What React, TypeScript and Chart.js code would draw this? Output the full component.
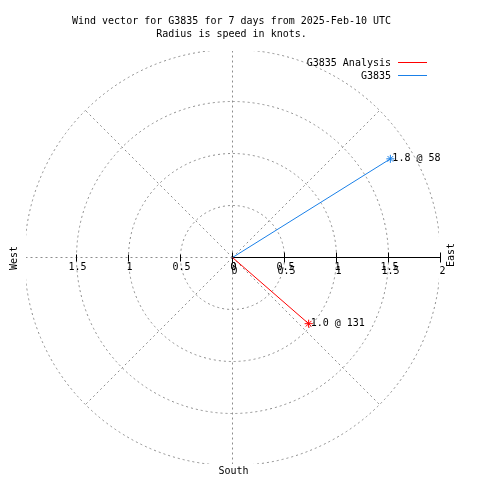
import React, { useEffect, useRef } from "react";
import { Chart, registerables } from "chart.js";

Chart.register(...registerables);

// ---- data ----
const seriesNames = ["G3835 Analysis", "G3835"];
const speedsKnots = [0.97, 1.79];
const directionsDeg = [131, 58];
const ringValues = [0.5, 1, 1.5, 2];
const westTickValues = [1.5, 1, 0.5, 0];
const eastTickValuesA = [0, 0.5, 1, 1.5];
const eastTickValuesB = [0, 0.5, 1, 1.5, 2];
const titleLines = [
  "Wind vector for G3835 for 7 days from 2025-Feb-10 UTC",
  "Radius is speed in knots.",
];
const compassLabels = { west: "West", east: "East", south: "South" };

const FONT = '10px "DejaVu Sans Mono", "Liberation Mono", monospace';
const seriesColors = ["#ff0000", "#1a80e8"];

function fmtTick(v: number) {
  return String(v);
}

const polarPlugin = {
  id: "polarDecor",
  beforeDatasetsDraw(chart: any) {
    const { ctx, scales } = chart;
    const x = scales.x;
    const y = scales.y;
    const cx = x.getPixelForValue(0);
    const cy = y.getPixelForValue(0);
    const k = x.getPixelForValue(1) - cx;
    const R = ringValues[ringValues.length - 1];

    ctx.save();
    const L = x.getPixelForValue(-1.985);
    const Rt = x.getPixelForValue(1.985);
    const T = y.getPixelForValue(1.985);
    const B = y.getPixelForValue(-1.985);
    ctx.beginPath();
    ctx.rect(L, T, Rt - L, B - T);
    ctx.clip();
    ctx.strokeStyle = "#8c8c8c";
    ctx.lineWidth = 1;
    ctx.setLineDash([2, 3]);
    for (const r of ringValues) {
      ctx.beginPath();
      ctx.arc(cx, cy, r * k, 0, Math.PI * 2);
      ctx.stroke();
    }
    for (let a = 45; a < 360; a += 45) {
      const rad = (a * Math.PI) / 180;
      ctx.beginPath();
      ctx.moveTo(cx, cy);
      ctx.lineTo(cx + Math.cos(rad) * R * k, cy - Math.sin(rad) * R * k);
      ctx.stroke();
    }
    ctx.restore();

    // solid east axis
    ctx.save();
    ctx.strokeStyle = "#000";
    ctx.lineWidth = 1;
    ctx.beginPath();
    ctx.moveTo(cx, cy);
    ctx.lineTo(x.getPixelForValue(R), cy);
    ctx.stroke();
    for (const v of [0, ...ringValues]) {
      const px = Math.round(x.getPixelForValue(v) - 0.5) + 0.5;
      ctx.beginPath();
      ctx.moveTo(px, cy - 5);
      ctx.lineTo(px, cy + 5);
      ctx.stroke();
    }
    for (const v of westTickValues) {
      if (v === 0) continue;
      const px = Math.round(x.getPixelForValue(-v) - 0.5) + 0.5;
      ctx.beginPath();
      ctx.moveTo(px, cy - 3);
      ctx.lineTo(px, cy + 4);
      ctx.stroke();
    }
    ctx.restore();
  },
  afterDatasetsDraw(chart: any) {
    const { ctx, scales } = chart;
    const x = scales.x;
    const y = scales.y;
    const cx = x.getPixelForValue(0);
    const cy = y.getPixelForValue(0);

    ctx.save();
    ctx.font = FONT;
    ctx.fillStyle = "#000";
    ctx.textBaseline = "middle";

    // titles
    ctx.textAlign = "center";
    ctx.fillText(titleLines[0], cx - 1, 21);
    ctx.fillText(titleLines[1], cx - 1, 34);

    // tick labels
    for (const v of westTickValues) {
      ctx.fillText(fmtTick(v), x.getPixelForValue(-v) + 1, cy + 10);
    }
    for (const v of eastTickValuesA) {
      ctx.fillText(fmtTick(v), x.getPixelForValue(v) + 1, cy + 10);
    }
    for (const v of eastTickValuesB) {
      ctx.fillText(fmtTick(v), x.getPixelForValue(v) + 2, cy + 14);
    }

    // compass labels
    ctx.fillText(compassLabels.south, cx + 1, 471);
    ctx.save();
    ctx.translate(14, 258);
    ctx.rotate(-Math.PI / 2);
    ctx.fillText(compassLabels.west, 0, 0);
    ctx.restore();
    ctx.save();
    ctx.translate(451, 255);
    ctx.rotate(-Math.PI / 2);
    ctx.fillText(compassLabels.east, 0, 0);
    ctx.restore();

    // legend
    ctx.textAlign = "right";
    seriesNames.forEach((name, i) => {
      const ly = 63 + i * 13;
      ctx.fillStyle = "#000";
      ctx.fillText(name, 391, ly);
      ctx.strokeStyle = seriesColors[i];
      ctx.lineWidth = 1;
      ctx.beginPath();
      ctx.moveTo(398, ly - 0.5);
      ctx.lineTo(427, ly - 0.5);
      ctx.stroke();
    });

    // vector labels
    ctx.textAlign = "left";
    ctx.fillStyle = "#000";
    seriesNames.forEach((_, i) => {
      const meta = chart.getDatasetMeta(i);
      const pt = meta.data[1];
      const label = `${speedsKnots[i].toFixed(1)} @ ${directionsDeg[i]}`;
      ctx.fillText(label, pt.x + 2, pt.y - 0.5);
    });
    ctx.restore();
  },
};

export default function App() {
  const ref = useRef<HTMLCanvasElement | null>(null);
  useEffect(() => {
    if (!ref.current) return;
    const datasets = seriesNames.map((name, i) => {
      const rad = (directionsDeg[i] * Math.PI) / 180;
      return {
        label: name,
        data: [
          { x: 0, y: 0 },
          { x: speedsKnots[i] * Math.sin(rad), y: speedsKnots[i] * Math.cos(rad) },
        ],
        showLine: true,
        borderColor: seriesColors[i],
        backgroundColor: seriesColors[i],
        borderWidth: 1,
        pointStyle: "star",
        pointRadius: [0, 4],
        pointBorderWidth: 1,
        pointBorderColor: seriesColors[i],
      };
    });
    const chart = new Chart(ref.current, {
      type: "scatter",
      data: { datasets },
      options: {
        animation: false,
        responsive: false,
        devicePixelRatio: 1,
        layout: { padding: { left: 24.5, right: 39.5, top: 49.5, bottom: 14.5 } },
        scales: {
          x: { type: "linear", min: -2, max: 2, display: false },
          y: { type: "linear", min: -2, max: 2, display: false },
        },
        plugins: { legend: { display: false }, tooltip: { enabled: false }, title: { display: false } },
      },
      plugins: [polarPlugin],
    } as any);
    return () => chart.destroy();
  }, []);
  return (
    <div style={{ position: "fixed", left: 0, top: 0, width: 480, height: 480, background: "#fff" }}>
      <canvas ref={ref} width={480} height={480} />
    </div>
  );
}
